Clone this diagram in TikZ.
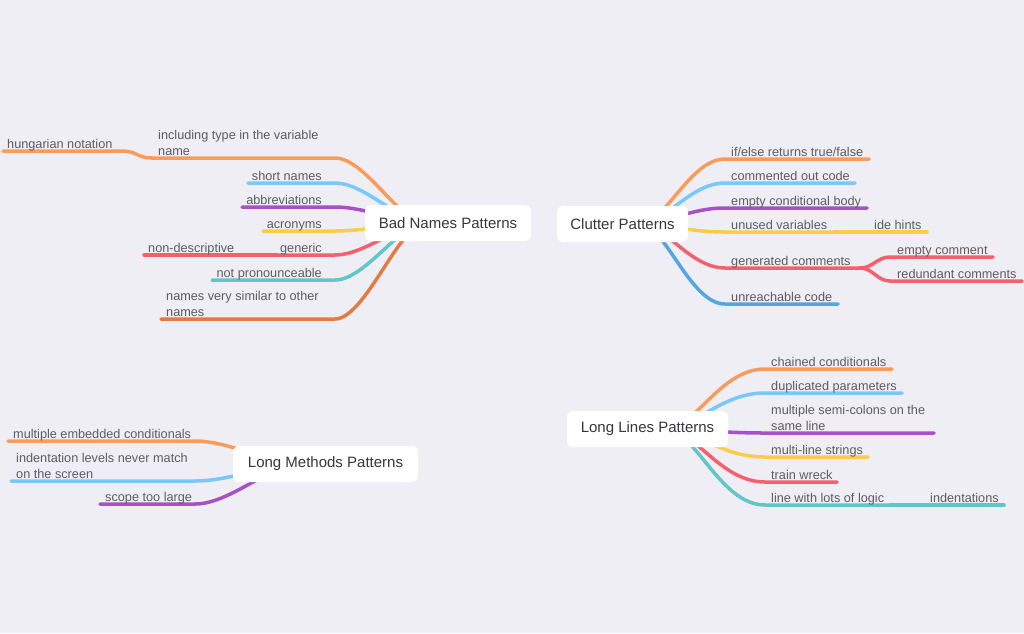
\documentclass[tikz,border=0pt]{standalone}
\usepackage{fontspec}
\setmainfont{Liberation Sans}
\pgfdeclarelayer{bg}
\pgfsetlayers{bg,main}
\definecolor{bgcol}{RGB}{239,238,244}
\definecolor{txtgray}{RGB}{92,92,98}
\definecolor{toptxt}{RGB}{55,55,58}
\definecolor{cOrange}{RGB}{248,156,94}
\definecolor{cBlue}{RGB}{122,200,248}
\definecolor{cPurple}{RGB}{168,80,198}
\definecolor{cYellow}{RGB}{250,204,72}
\definecolor{cRed}{RGB}{245,96,110}
\definecolor{cTeal}{RGB}{96,198,200}
\definecolor{cDarkOrange}{RGB}{226,124,68}
\definecolor{cDeepBlue}{RGB}{82,166,226}
\begin{document}
\begin{tikzpicture}[x=1pt,y=-1pt,
  lbl/.style={inner sep=0pt, font=\fontsize{12.7}{16}\selectfont, text=txtgray},
  topic/.style={fill=white, rounded corners=6pt, minimum height=36pt, inner sep=0pt,
    font=\fontsize{15}{18}\selectfont, text=toptxt},
  br/.style={line width=3.5pt, line cap=round}]
\useasboundingbox (0,0) rectangle (1024,633);
\begin{pgfonlayer}{bg}
\fill[bgcol] (0,0) rectangle (1024,633);
\end{pgfonlayer}

% ---------- main topics
\node[topic, minimum width=166pt] (bad) at (448,223) {Bad Names Patterns};
\node[topic, minimum width=131pt] (clut) at (622.5,224) {Clutter Patterns};
\node[topic, minimum width=185pt] (lm) at (325.5,464) {Long Methods Patterns};
\node[topic, minimum width=161pt] (ll) at (647.5,429) {Long Lines Patterns};

\coordinate (bo) at ([xshift=-23pt]bad.center);
\coordinate (co) at ([xshift=17.5pt]clut.center);
\coordinate (mo) at ([xshift=-25pt]lm.center);
\coordinate (lo) at ([xshift=17.5pt]ll.center);

% ---------- Bad Names labels
\node[lbl, anchor=north west, align=left] (a1) at (158,130.4) {including type in the variable\\name};
\node[lbl, anchor=base west] (a1a) at (7,148.5) {hungarian notation};
\node[lbl, anchor=base east] (a2) at (322,180.5) {short names};
\node[lbl, anchor=base east] (a3) at (322,204.5) {abbreviations};
\node[lbl, anchor=base east] (a4) at (322,228.5) {acronyms};
\node[lbl, anchor=base east] (a5) at (322,252.5) {generic};
\node[lbl, anchor=base west] (a5a) at (148,252.5) {non-descriptive};
\node[lbl, anchor=base east] (a6) at (322,277.5) {not pronounceable};
\node[lbl, anchor=north west, align=left] (a7) at (166,291.4) {names very similar to other\\names};

\coordinate (ea1) at (152,158);
\coordinate (ea1a) at (3,151);
\coordinate (ea2) at (248,183);
\coordinate (ea3) at (242,207);
\coordinate (ea4) at (263,231);
\coordinate (ea5) at (277,255);
\coordinate (ea5a) at (144,255);
\coordinate (ea6) at (212,280);
\coordinate (ea7) at (161,319);

% ---------- Clutter labels
\node[lbl, anchor=base west] (b1) at (731,156.5) {if/else returns true/false};
\node[lbl, anchor=base west] (b2) at (731,180.5) {commented out code};
\node[lbl, anchor=base west] (b3) at (731,205.5) {empty conditional body};
\node[lbl, anchor=base west] (b4) at (731,229.5) {unused variables};
\node[lbl, anchor=base west] (b4a) at (874,229.5) {ide hints};
\node[lbl, anchor=base west] (b5) at (731,265.5) {generated comments};
\node[lbl, anchor=base west] (b5a) at (897,254.5) {empty comment};
\node[lbl, anchor=base west] (b5b) at (897,278.5) {redundant comments};
\node[lbl, anchor=base west] (b6) at (731,301.5) {unreachable code};

\coordinate (eb1) at (869,159);
\coordinate (eb2) at (855,183);
\coordinate (eb3) at (867,208);
\coordinate (eb4) at (835,232);
\coordinate (eb4a) at (927,232);
\coordinate (eb5) at (860,268);
\coordinate (eb5a) at (993,257);
\coordinate (eb5b) at (1022,281);
\coordinate (eb6) at (838,304);

% ---------- Long Methods labels
\node[lbl, anchor=base west] (c1) at (13,438.5) {multiple embedded conditionals};
\node[lbl, anchor=north west, align=left] (c2) at (16,453.4) {indentation levels never match\\on the screen};
\node[lbl, anchor=base west] (c3) at (105,501.5) {scope too large};

\coordinate (ec1) at (8,441);
\coordinate (ec2) at (11,481);
\coordinate (ec3) at (100,504);

% ---------- Long Lines labels
\node[lbl, anchor=base west] (d1) at (771,366.5) {chained conditionals};
\node[lbl, anchor=base west] (d2) at (771,390.5) {duplicated parameters};
\node[lbl, anchor=north west, align=left] (d3) at (771,405.4) {multiple semi-colons on the\\same line};
\node[lbl, anchor=base west] (d4) at (771,454.5) {multi-line strings};
\node[lbl, anchor=base west] (d5) at (771,479.5) {train wreck};
\node[lbl, anchor=base west] (d6) at (771,502.5) {line with lots of logic};
\node[lbl, anchor=base west] (d6a) at (930,502.5) {indentations};

\coordinate (ed1) at (892,369);
\coordinate (ed2) at (902,393);
\coordinate (ed3) at (934,433);
\coordinate (ed4) at (868,457);
\coordinate (ed5) at (837,482);
\coordinate (ed6) at (890,505);
\coordinate (ed6a) at (1004,505);

\begin{pgfonlayer}{bg}
% Bad Names branches
\draw[br, cOrange] (bo) .. controls (400,223) and (365,158) .. (335,158) -- (ea1);
\draw[br, cOrange] (ea1) .. controls (137,158) and (137,151) .. (122,151) -- (ea1a);
\draw[br, cBlue] (bo) .. controls (400,223) and (365,183) .. (335,183) -- (ea2);
\draw[br, cPurple] (bo) .. controls (400,223) and (365,207) .. (335,207) -- (ea3);
\draw[br, cYellow] (bo) .. controls (400,223) and (365,231) .. (335,231) -- (ea4);
\draw[br, cRed] (bo) .. controls (400,223) and (365,255) .. (335,255) -- (ea5);
\draw[br, cRed] (ea5) -- (ea5a);
\draw[br, cTeal] (bo) .. controls (400,223) and (365,280) .. (335,280) -- (ea6);
\draw[br, cDarkOrange] (bo) .. controls (400,223) and (365,319) .. (335,319) -- (ea7);
% Clutter branches
\draw[br, cOrange] (co) .. controls (665,224) and (690,159) .. (725,159) -- (eb1);
\draw[br, cBlue] (co) .. controls (665,224) and (690,183) .. (725,183) -- (eb2);
\draw[br, cPurple] (co) .. controls (665,224) and (690,208) .. (725,208) -- (eb3);
\draw[br, cYellow] (co) .. controls (665,224) and (690,232) .. (725,232) -- (eb4);
\draw[br, cYellow] (eb4) -- (eb4a);
\draw[br, cRed] (co) .. controls (665,224) and (690,268) .. (725,268) -- (eb5);
\draw[br, cRed] (eb5) .. controls (873,268) and (877,257) .. (890,257) -- (eb5a);
\draw[br, cRed] (eb5) .. controls (873,268) and (877,281) .. (890,281) -- (eb5b);
\draw[br, cDeepBlue] (co) .. controls (665,224) and (690,304) .. (725,304) -- (eb6);
% Long Methods branches
\draw[br, cOrange] (mo) .. controls (270,464) and (230,441) .. (195,441) -- (ec1);
\draw[br, cBlue] (mo) .. controls (270,464) and (230,481) .. (195,481) -- (ec2);
\draw[br, cPurple] (mo) .. controls (270,464) and (230,504) .. (195,504) -- (ec3);
% Long Lines branches
\draw[br, cOrange] (lo) .. controls (695,429) and (720,369) .. (765,369) -- (ed1);
\draw[br, cBlue] (lo) .. controls (695,429) and (720,393) .. (765,393) -- (ed2);
\draw[br, cPurple] (lo) .. controls (695,429) and (720,433) .. (765,433) -- (ed3);
\draw[br, cYellow] (lo) .. controls (695,429) and (720,457) .. (765,457) -- (ed4);
\draw[br, cRed] (lo) .. controls (695,429) and (720,482) .. (765,482) -- (ed5);
\draw[br, cTeal] (lo) .. controls (695,429) and (720,505) .. (765,505) -- (ed6);
\draw[br, cTeal] (ed6) -- (ed6a);
\end{pgfonlayer}
\end{tikzpicture}
\end{document}
